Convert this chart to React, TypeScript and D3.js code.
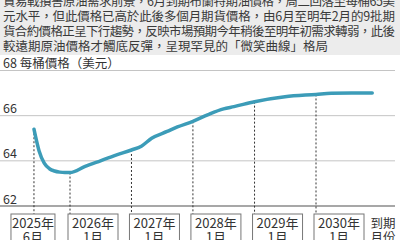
import React from "react";
import * as d3 from "d3";

const introLines = [
  "貿易戰損害原油需求前景，6月到期布蘭特期油價格，周二回落至每桶65美",
  "元水平，但此價格已高於此後多個月期貨價格，由6月至明年2月的9批期",
  "貨合約價格正呈下行趨勢，反映市場預期今年稍後至明年初需求轉弱，此後",
  "較遠期原油價格才觸底反彈，呈現罕見的「微笑曲線」格局",
];

const months = [
  "2025-06", "2025-07", "2025-08", "2025-09", "2025-10", "2025-11", "2025-12",
  "2026-01", "2026-04", "2026-07", "2026-10", "2027-01", "2027-03", "2027-05",
  "2027-08", "2027-10", "2028-01", "2028-04", "2028-07", "2028-09", "2029-01",
  "2029-07", "2030-01", "2030-04", "2030-08", "2030-12",
];
const prices = [
  65.4, 64.45, 63.9, 63.65, 63.55, 63.5, 63.48,
  63.48, 63.75, 64.0, 64.25, 64.48, 64.65, 65.0,
  65.3, 65.5, 65.75, 66.05, 66.3, 66.4, 66.62,
  66.84, 66.94, 66.99, 67.0, 67.0,
];

const tickValues = [62, 64, 66, 68];
const yTitle = "每桶價格（美元）";
const markMonths = ["2025-06", "2026-01", "2027-01", "2028-01", "2029-01", "2030-01"];
const markYears = ["2025年", "2026年", "2027年", "2028年", "2029年", "2030年"];
const markMonthLabels = ["6月", "1月", "1月", "1月", "1月", "1月"];
const axisTitle = ["到期", "月份"];

const parse = d3.timeParse("%Y-%m");

export default function App() {
  const W = 400, H = 240;
  const x = d3.scaleTime().domain([parse("2026-01")!, parse("2030-01")!]).range([70, 316]);
  const y = d3.scaleLinear().domain([62, 68]).range([206, 70.5]);
  const data = months.map((m, i) => ({ d: parse(m)!, v: prices[i] }));
  const line = d3.line<{ d: Date; v: number }>().x((p) => x(p.d)).y((p) => y(p.v)).curve(d3.curveMonotoneX);
  const font = "'Noto Sans CJK TC', 'Noto Sans', sans-serif";
  const txt = "#333";

  return (
    <div style={{ position: "fixed", left: 0, top: 0 }}>
      <svg width={W} height={H} style={{ display: "block", background: "#fff" }} fontFamily={font}>
        <rect x={0} y={0} width={W} height={55} fill="#ececec" />
        {introLines.map((t, i) => (
          <text key={i} x={3} y={6 + i * 15} fontSize={12.5} fill="#3a3a3a"
            textLength={i < 3 ? 392 : undefined} lengthAdjust="spacing">{t}</text>
        ))}
        {tickValues.map((v) => (
          <g key={v}>
            <line x1={0} x2={395} y1={y(v)} y2={y(v)}
              stroke={v === 62 ? "#8a8a8a" : "#c4c4c4"} strokeWidth={v === 62 ? 1.5 : 1} />
            <text x={3} y={y(v) - 2.5} fontSize={12.5} fill={txt}>
              {v}{v === 68 ? " " + yTitle : ""}
            </text>
          </g>
        ))}
        {markMonths.map((m, i) => {
          const d = parse(m)!;
          const px = x(d);
          const idx = months.indexOf(m);
          const py = y(prices[idx]);
          const bw = i === 0 ? 44 : 50;
          const bx = i === 0 ? px - bw / 2 - 1 : px - 2;
          return (
            <g key={m}>
              <line x1={px} x2={px} y1={py} y2={214} stroke="#333" strokeWidth={1} strokeDasharray="2,2" />
              <rect x={bx} y={214} width={bw} height={40} fill="#fff" stroke="#777" strokeWidth={1} />
              <text x={bx + bw / 2} y={228} fontSize={13} textAnchor="middle" fill={txt}>{markYears[i]}</text>
              <text x={bx + bw / 2} y={242} fontSize={13} textAnchor="middle" fill={txt}>{markMonthLabels[i]}</text>
            </g>
          );
        })}
        <path d={line(data) ?? ""} fill="none" stroke="#3c9cb8" strokeWidth={3.5} strokeLinecap="round" strokeLinejoin="round" />
        {axisTitle.map((t, i) => (
          <text key={t} x={383} y={228 + i * 14} fontSize={12.5} textAnchor="middle" fill={txt}>{t}</text>
        ))}
      </svg>
    </div>
  );
}
